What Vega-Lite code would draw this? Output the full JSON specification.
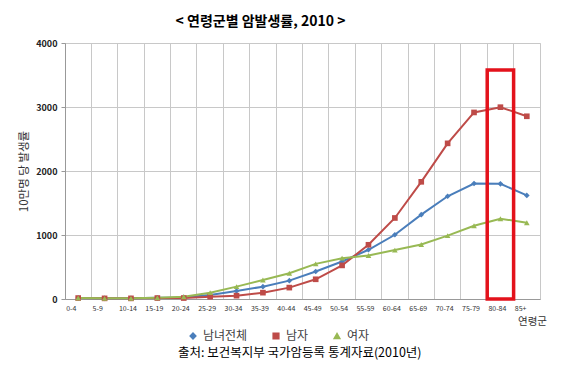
{
  "$schema": "https://vega.github.io/schema/vega-lite/v6.json",
  "width": 475,
  "height": 256,
  "autosize": {"type": "none"},
  "padding": {"left": 65, "top": 43, "right": 32, "bottom": 72},
  "background": "white",
  "config": {
    "font": "Noto Sans CJK KR",
    "view": {"stroke": "#c8c8c8"}
  },
  "title": {
    "text": "< 연령군별 암발생률, 2010 >",
    "fontSize": 14,
    "fontWeight": "bold",
    "color": "black",
    "anchor": "middle",
    "dx": -42,
    "offset": 10
  },
  "data": {
    "values": [
      {"age": "0-4", "series": "남녀전체", "value": 15},
      {"age": "5-9", "series": "남녀전체", "value": 10},
      {"age": "10-14", "series": "남녀전체", "value": 10},
      {"age": "15-19", "series": "남녀전체", "value": 18},
      {"age": "20-24", "series": "남녀전체", "value": 25},
      {"age": "25-29", "series": "남녀전체", "value": 63},
      {"age": "30-34", "series": "남녀전체", "value": 125},
      {"age": "35-39", "series": "남녀전체", "value": 193},
      {"age": "40-44", "series": "남녀전체", "value": 287},
      {"age": "45-49", "series": "남녀전체", "value": 429},
      {"age": "50-54", "series": "남녀전체", "value": 586},
      {"age": "55-59", "series": "남녀전체", "value": 769},
      {"age": "60-64", "series": "남녀전체", "value": 1004},
      {"age": "65-69", "series": "남녀전체", "value": 1318},
      {"age": "70-74", "series": "남녀전체", "value": 1605},
      {"age": "75-79", "series": "남녀전체", "value": 1804},
      {"age": "80-84", "series": "남녀전체", "value": 1800},
      {"age": "85+", "series": "남녀전체", "value": 1618},
      {"age": "0-4", "series": "남자", "value": 15},
      {"age": "5-9", "series": "남자", "value": 10},
      {"age": "10-14", "series": "남자", "value": 10},
      {"age": "15-19", "series": "남자", "value": 15},
      {"age": "20-24", "series": "남자", "value": 15},
      {"age": "25-29", "series": "남자", "value": 37},
      {"age": "30-34", "series": "남자", "value": 52},
      {"age": "35-39", "series": "남자", "value": 99},
      {"age": "40-44", "series": "남자", "value": 178},
      {"age": "45-49", "series": "남자", "value": 308},
      {"age": "50-54", "series": "남자", "value": 525},
      {"age": "55-59", "series": "남자", "value": 847},
      {"age": "60-64", "series": "남자", "value": 1266},
      {"age": "65-69", "series": "남자", "value": 1831},
      {"age": "70-74", "series": "남자", "value": 2432},
      {"age": "75-79", "series": "남자", "value": 2915},
      {"age": "80-84", "series": "남자", "value": 2997},
      {"age": "85+", "series": "남자", "value": 2855},
      {"age": "0-4", "series": "여자", "value": 15},
      {"age": "5-9", "series": "여자", "value": 10},
      {"age": "10-14", "series": "여자", "value": 10},
      {"age": "15-19", "series": "여자", "value": 20},
      {"age": "20-24", "series": "여자", "value": 35},
      {"age": "25-29", "series": "여자", "value": 99},
      {"age": "30-34", "series": "여자", "value": 193},
      {"age": "35-39", "series": "여자", "value": 298},
      {"age": "40-44", "series": "여자", "value": 403},
      {"age": "45-49", "series": "여자", "value": 549},
      {"age": "50-54", "series": "여자", "value": 638},
      {"age": "55-59", "series": "여자", "value": 680},
      {"age": "60-64", "series": "여자", "value": 764},
      {"age": "65-69", "series": "여자", "value": 852},
      {"age": "70-74", "series": "여자", "value": 990},
      {"age": "75-79", "series": "여자", "value": 1145},
      {"age": "80-84", "series": "여자", "value": 1255},
      {"age": "85+", "series": "여자", "value": 1192}
    ]
  },
  "layer": [
    {
      "mark": {"type": "line", "strokeWidth": 2, "point": {"filled": true, "size": 32, "opacity": 1}},
      "encoding": {
        "x": {
          "field": "age",
          "type": "ordinal",
          "bandPosition": 0.5,
          "scale": {"type": "band", "domain": ["0-4","5-9","10-14","15-19","20-24","25-29","30-34","35-39","40-44","45-49","50-54","55-59","60-64","65-69","70-74","75-79","80-84","85+"], "paddingInner": 0, "paddingOuter": 0},
          "axis": {
            "title": "연령군",
            "titleFontSize": 10.5,
            "titleFontWeight": "normal",
            "titleColor": "#333333",
            "titleX": 467,
            "titleY": 17,
            "titleAlign": "center",
            "titleBaseline": "top",
            "bandPosition": 0,
            "labelAngle": 0,
            "labelAlign": "left",
            "labelOffset": -12,
            "labelFontSize": 7,
            "labelColor": "#333333",
            "labelPadding": 5,
            "ticks": false,
            "grid": true,
            "gridColor": "#c8c8c8",
            "domainColor": "#999999"
          }
        },
        "y": {
          "field": "value",
          "type": "quantitative",
          "scale": {"domain": [0, 4000], "nice": false},
          "axis": {
            "title": "10만명 당 발생률",
            "titleFontSize": 11.5,
            "titleFontWeight": "normal",
            "titleColor": "#333333",
            "titleX": -41,
            "titleY": 128,
            "titleAlign": "center",
            "titleBaseline": "middle",
            "titleAngle": -90,
            "values": [0, 1000, 2000, 3000, 4000],
            "format": "d",
            "labelFontSize": 9,
            "labelFontWeight": "bold",
            "labelColor": "#222222",
            "labelPadding": 4,
            "tickSize": 4,
            "tickColor": "#999999",
            "domainColor": "#999999",
            "gridColor": "#c8c8c8"
          }
        },
        "color": {
          "field": "series",
          "type": "nominal",
          "sort": ["남녀전체", "남자", "여자"],
          "scale": {"domain": ["남녀전체", "남자", "여자"], "range": ["#4a7ebb", "#be4b48", "#98b954"]},
          "legend": {
            "orient": "none",
            "legendX": 113,
            "legendY": 287,
            "direction": "horizontal",
            "title": "출처: 보건복지부 국가암등록 통계자료(2010년)",
            "titleOrient": "bottom",
            "titleAnchor": "start",
            "titleFontSize": 12.5,
            "titleFontWeight": "normal",
            "titleColor": "black",
            "titleLimit": 400,
            "titlePadding": 5,
            "labelFontSize": 12,
            "labelColor": "#404040",
            "symbolSize": 32,
            "symbolOffset": 9,
            "columnPadding": 13
          }
        },
        "shape": {
          "field": "series",
          "type": "nominal",
          "sort": ["남녀전체", "남자", "여자"],
          "scale": {"domain": ["남녀전체", "남자", "여자"], "range": ["diamond", "square", "triangle-up"]},
          "legend": {
            "orient": "none",
            "legendX": 113,
            "legendY": 287,
            "direction": "horizontal",
            "title": "출처: 보건복지부 국가암등록 통계자료(2010년)",
            "titleOrient": "bottom",
            "titleAnchor": "start",
            "titleFontSize": 12.5,
            "titleFontWeight": "normal",
            "titleColor": "black",
            "titleLimit": 400,
            "titlePadding": 5,
            "labelFontSize": 12,
            "labelColor": "#404040",
            "symbolSize": 32,
            "symbolOffset": 9,
            "columnPadding": 13
          }
        }
      }
    },
    {
      "data": {"values": [{"age": "80-84", "top": 3580, "bottom": 0}]},
      "mark": {"type": "rect", "fill": null, "stroke": "#e3121b", "strokeWidth": 3.5},
      "encoding": {
        "x": {"field": "age", "type": "ordinal"},
        "y": {"field": "top", "type": "quantitative"},
        "y2": {"field": "bottom"}
      }
    }
  ]
}
